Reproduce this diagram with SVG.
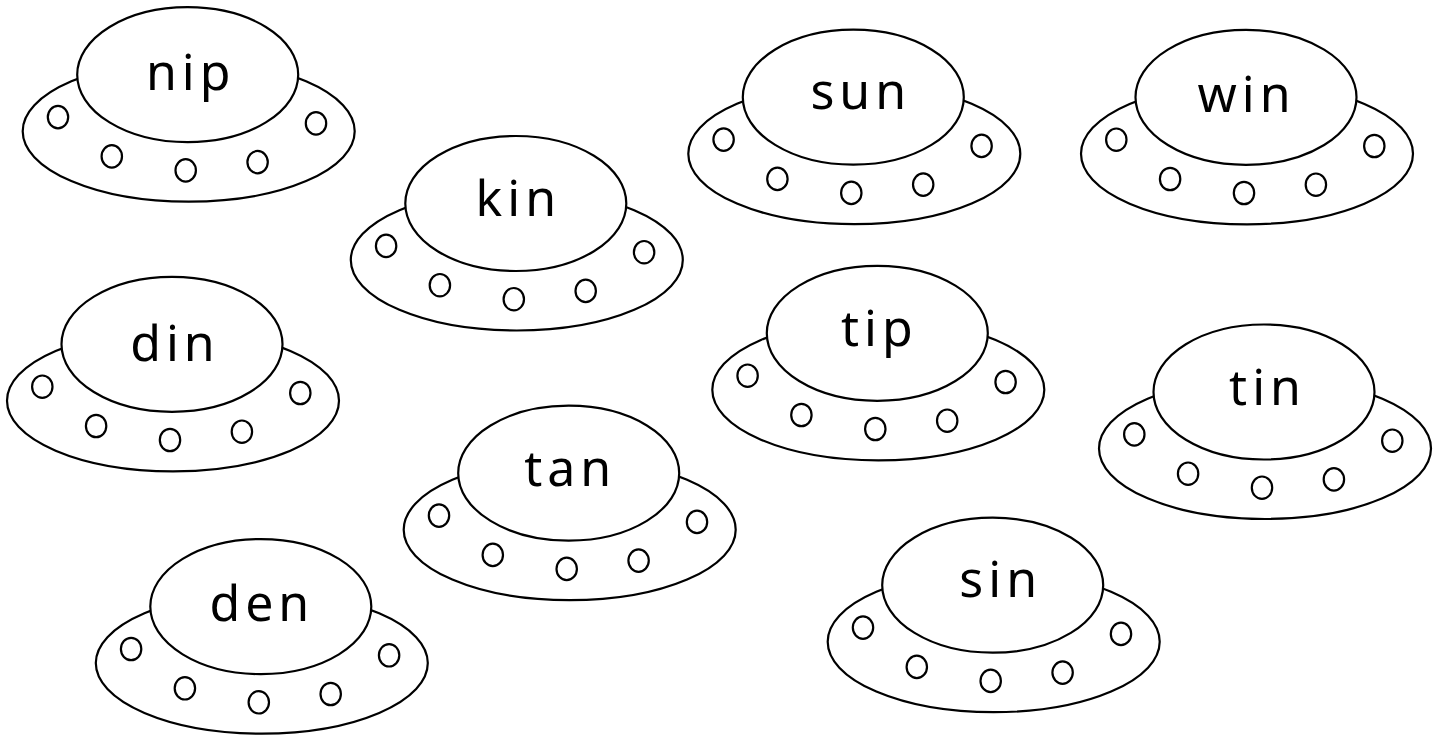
<svg xmlns="http://www.w3.org/2000/svg" xmlns:xlink="http://www.w3.org/1999/xlink" width="1442" height="735" viewBox="0 0 1442 735">
<style>
.ln{fill:#fff;stroke:#000;stroke-width:2.2}
.lbl{font-family:"Noto Sans","DejaVu Sans",sans-serif;font-size:50px;letter-spacing:5px;text-anchor:middle;fill:#000}
</style>
<defs>
<g id="ufo">
<ellipse class="ln" cx="1" cy="56.5" rx="166" ry="70.5"/>
<ellipse class="ln" cx="-129.7" cy="42.4" rx="10.2" ry="11.2"/>
<ellipse class="ln" cx="-75.9" cy="81.7" rx="10.2" ry="11.2"/>
<ellipse class="ln" cx="-2" cy="95.7" rx="10.2" ry="11.2"/>
<ellipse class="ln" cx="69.9" cy="87.4" rx="10.2" ry="11.2"/>
<ellipse class="ln" cx="128.3" cy="48.7" rx="10.2" ry="11.2"/>
<ellipse class="ln" cx="0" cy="0" rx="110.5" ry="67.5"/>
</g>
</defs>
<rect width="1442" height="735" fill="#fff"/>
<g id="connectors"></g>
<g id="ufo-nip" transform="translate(187.7,74.7)"><use xlink:href="#ufo" href="#ufo"/><text class="lbl" x="3" y="15.3">nip</text></g>
<g id="ufo-kin" transform="translate(515.8,203.5)"><use xlink:href="#ufo" href="#ufo"/><text class="lbl" x="2.5" y="12.5">kin</text></g>
<g id="ufo-sun" transform="translate(853.3,97.2)"><use xlink:href="#ufo" href="#ufo"/><text class="lbl" x="7.5" y="11.8">sun</text></g>
<g id="ufo-win" transform="translate(1246,97.3)"><use xlink:href="#ufo" href="#ufo"/><text class="lbl" x="0.5" y="14.4">win</text></g>
<g id="ufo-din" transform="translate(172,344.3)"><use xlink:href="#ufo" href="#ufo"/><text class="lbl" x="3" y="16.4">din</text></g>
<g id="ufo-tip" transform="translate(877.3,333.3)"><use xlink:href="#ufo" href="#ufo"/><text class="lbl" x="2" y="12.4">tip</text></g>
<g id="ufo-tin" transform="translate(1264,392)"><use xlink:href="#ufo" href="#ufo"/><text class="lbl" x="3.5" y="13">tin</text></g>
<g id="ufo-tan" transform="translate(568.7,473.2)"><use xlink:href="#ufo" href="#ufo"/><text class="lbl" x="1.5" y="12.8">tan</text></g>
<g id="ufo-den" transform="translate(260.8,606.6)"><use xlink:href="#ufo" href="#ufo"/><text class="lbl" x="1" y="14">den</text></g>
<g id="ufo-sin" transform="translate(992.7,585.2)"><use xlink:href="#ufo" href="#ufo"/><text class="lbl" x="8" y="11.4">sin</text></g>
</svg>
